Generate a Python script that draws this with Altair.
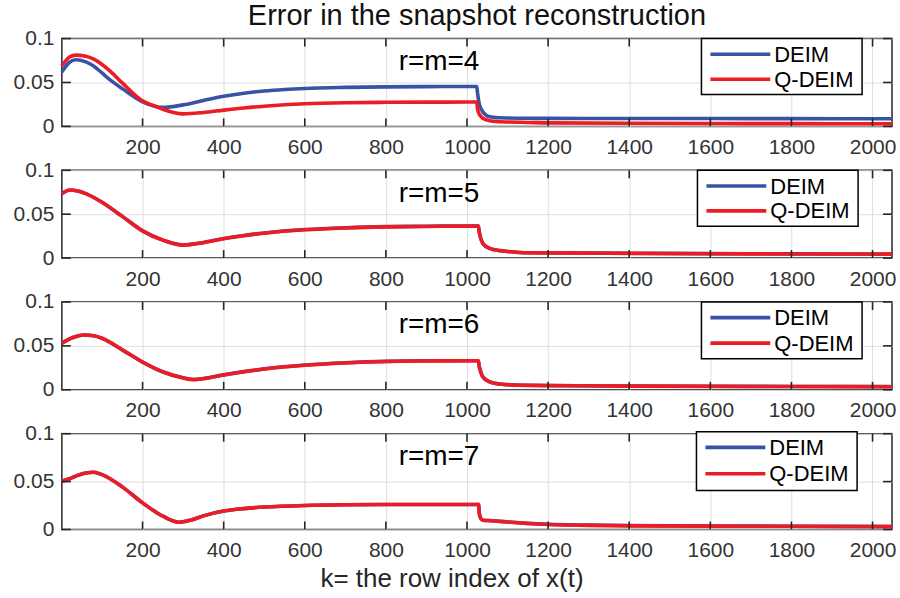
import altair as alt
import pandas as pd

# ---- data -------------------------------------------------------------
SERIES = ["DEIM", "Q-DEIM"]
COLORS = ["#3953a4", "#ed1c24"]
PANEL_TITLES = ["r=m=4", "r=m=5", "r=m=6", "r=m=7"]
X_TICKS = [200, 400, 600, 800, 1000, 1200, 1400, 1600, 1800, 2000]
Y_TICKS = [0, 0.05, 0.1]
X_DOMAIN = [1, 2048]
Y_DOMAIN = [0, 0.1]

# r = m = 4
K_4 = [1, 20, 35, 60, 80, 100, 120, 150, 200, 230, 250, 300, 350, 400, 450, 500,
       550, 600, 700, 800, 900, 1000, 1024, 1026, 1030, 1040, 1056, 1080, 1100,
       1150, 1200, 1400, 1600, 1800, 2048]
DEIM_4 = [0.0620, 0.0730, 0.0758, 0.0735, 0.0685, 0.0608, 0.0530, 0.0430, 0.0280,
          0.0230, 0.0216, 0.0245, 0.0295, 0.0342, 0.0378, 0.0403, 0.0420, 0.0432,
          0.0444, 0.0450, 0.0453, 0.0455, 0.0455, 0.0380, 0.0260, 0.0160, 0.0110,
          0.0098, 0.0095, 0.0092, 0.0091, 0.0090, 0.0089, 0.0088, 0.0087]
QDEIM_4 = [0.0690, 0.0790, 0.0812, 0.0800, 0.0765, 0.0705, 0.0630, 0.0495, 0.0290,
           0.0232, 0.0195, 0.0142, 0.0158, 0.0185, 0.0210, 0.0230, 0.0246, 0.0258,
           0.0270, 0.0274, 0.0276, 0.0277, 0.0277, 0.0200, 0.0140, 0.0090, 0.0065,
           0.0053, 0.0050, 0.0045, 0.0040, 0.0036, 0.0033, 0.0031, 0.0030]

# r = m = 5
K_5 = [1, 21, 40, 60, 80, 100, 150, 200, 250, 300, 350, 400, 450, 500, 600, 700,
       800, 900, 1000, 1028, 1030, 1034, 1040, 1056, 1080, 1100, 1150, 1200, 1300,
       1400, 1600, 1800, 2048]
DEIM_5 = [0.0734, 0.0776, 0.0765, 0.0735, 0.0690, 0.0635, 0.0475, 0.0310, 0.0205,
          0.0150, 0.0178, 0.0223, 0.0258, 0.0286, 0.0325, 0.0346, 0.0358, 0.0362,
          0.0366, 0.0366, 0.0302, 0.0222, 0.0161, 0.0111, 0.0086, 0.0076, 0.0061,
          0.0060, 0.0058, 0.0055, 0.0051, 0.0048, 0.0046]
QDEIM_5 = [0.0734, 0.0776, 0.0765, 0.0735, 0.0690, 0.0635, 0.0475, 0.0310, 0.0205,
           0.0148, 0.0175, 0.0220, 0.0255, 0.0283, 0.0322, 0.0343, 0.0355, 0.0360,
           0.0364, 0.0364, 0.0300, 0.0220, 0.0160, 0.0110, 0.0085, 0.0075, 0.0060,
           0.0059, 0.0057, 0.0054, 0.0050, 0.0047, 0.0045]

# r = m = 6
K_6 = [1, 20, 40, 56, 80, 100, 150, 200, 250, 300, 326, 350, 400, 450, 500, 600,
       700, 800, 900, 1000, 1028, 1030, 1034, 1040, 1056, 1080, 1100, 1150, 1200,
       1400, 1600, 1800, 2048]
DEIM_6 = [0.0530, 0.0580, 0.0613, 0.0624, 0.0615, 0.0587, 0.0455, 0.0316, 0.0205,
          0.0137, 0.0118, 0.0128, 0.0170, 0.0207, 0.0238, 0.0282, 0.0308, 0.0324,
          0.0330, 0.0331, 0.0331, 0.0271, 0.0201, 0.0141, 0.0091, 0.0066, 0.0059,
          0.0051, 0.0049, 0.0043, 0.0040, 0.0038, 0.0036]
QDEIM_6 = [0.0530, 0.0580, 0.0613, 0.0624, 0.0615, 0.0587, 0.0455, 0.0316, 0.0203,
           0.0135, 0.0116, 0.0126, 0.0168, 0.0205, 0.0236, 0.0280, 0.0306, 0.0322,
           0.0328, 0.0330, 0.0330, 0.0270, 0.0200, 0.0140, 0.0090, 0.0065, 0.0058,
           0.0050, 0.0048, 0.0042, 0.0039, 0.0037, 0.0035]

# r = m = 7
K_7 = [1, 20, 40, 60, 80, 100, 150, 200, 250, 289, 320, 350, 400, 450, 500, 600,
       700, 800, 1000, 1029, 1030, 1034, 1040, 1060, 1100, 1150, 1200, 1300, 1400,
       1600, 1800, 2048]
DEIM_7 = [0.0503, 0.0530, 0.0565, 0.0590, 0.0597, 0.0573, 0.0445, 0.0278, 0.0139,
          0.0076, 0.0100, 0.0142, 0.0192, 0.0218, 0.0234, 0.0251, 0.0258, 0.0260,
          0.0260, 0.0260, 0.0174, 0.0115, 0.0097, 0.0092, 0.0078, 0.0064, 0.0054,
          0.0046, 0.0041, 0.0037, 0.0034, 0.0031]
QDEIM_7 = [0.0503, 0.0530, 0.0565, 0.0590, 0.0597, 0.0573, 0.0445, 0.0278, 0.0139,
           0.0076, 0.0100, 0.0142, 0.0192, 0.0218, 0.0234, 0.0251, 0.0258, 0.0260,
           0.0260, 0.0260, 0.0174, 0.0115, 0.0097, 0.0092, 0.0078, 0.0063, 0.0052,
           0.0043, 0.0038, 0.0035, 0.0033, 0.0030]

PANELS = [
    (K_4, DEIM_4, QDEIM_4),
    (K_5, DEIM_5, QDEIM_5),
    (K_6, DEIM_6, QDEIM_6),
    (K_7, DEIM_7, QDEIM_7),
]

TITLE = "Error in the snapshot reconstruction"
X_LABEL = "k= the row index of x(t)"

# ---- styling ----------------------------------------------------------
WIDTH = 832
HEIGHTS = [88, 88, 88, 96]
LEGEND_LEFT = [641, 637, 641, 636]
LEGEND_TOP = [0, 0, 0, -2]
LEGEND_H = [56, 56, 57, 59]
AXIS_INK = "#262626"
LABEL_INK = "#333333"
GRID = "#dedede"
FONT = "Liberation Sans"

x_scale = alt.Scale(domain=X_DOMAIN, nice=False, zero=False)
y_scale = alt.Scale(domain=Y_DOMAIN, nice=False, zero=False)

x_axis = alt.Axis(values=X_TICKS, format="d", grid=True, gridColor=GRID, gridWidth=1,
                  domain=False, ticks=False, tickSize=0, labelFontSize=21,
                  labelColor=LABEL_INK, labelPadding=10, labelFlush=False,
                  labelOverlap=False, title=None)
y_axis = alt.Axis(values=Y_TICKS, format="~g", grid=True, gridColor=GRID, gridWidth=1,
                  domain=False, ticks=False, tickSize=0, labelFontSize=21,
                  labelColor=LABEL_INK, labelPadding=8, labelOverlap=False, title=None)


def X(field):
    return alt.X(field, type="quantitative", scale=x_scale, axis=x_axis)


def Y(field):
    return alt.Y(field, type="quantitative", scale=y_scale, axis=y_axis)


def one_row(**cols):
    return pd.DataFrame({k: [v] for k, v in cols.items()})


def build_panel(i):
    k, deim, qdeim = PANELS[i]
    h = HEIGHTS[i]
    df = pd.DataFrame({
        "k": list(k) * 2,
        "err": list(deim) + list(qdeim),
        "series": [SERIES[0]] * len(k) + [SERIES[1]] * len(k),
    })
    base = alt.Chart(df)
    layers = []
    for name, col in zip(SERIES, COLORS):
        layers.append(
            base.transform_filter(alt.datum.series == name)
            .mark_line(color=col, strokeWidth=3.6, interpolate="monotone")
            .encode(x=X("k"), y=Y("err"))
        )

    # inward tick marks on all four sides
    xt = alt.Chart(pd.DataFrame({"tick": X_TICKS}))
    yt = alt.Chart(pd.DataFrame({"tick": Y_TICKS}))
    tick_style = dict(color=AXIS_INK, strokeWidth=1.6)
    layers += [
        xt.mark_rule(**tick_style).encode(x=X("tick"), y=alt.value(h), y2=alt.value(h - 8)),
        xt.mark_rule(**tick_style).encode(x=X("tick"), y=alt.value(0), y2=alt.value(8)),
        yt.mark_rule(**tick_style).encode(y=Y("tick"), x=alt.value(0), x2=alt.value(9)),
        yt.mark_rule(**tick_style).encode(y=Y("tick"), x=alt.value(WIDTH), x2=alt.value(WIDTH - 9)),
    ]

    # legend box
    L, T, LH = LEGEND_LEFT[i], LEGEND_TOP[i], LEGEND_H[i]
    layers.append(
        alt.Chart(one_row(box=1)).mark_rect(fill="white", stroke="#000000", strokeWidth=1.5)
        .encode(x=alt.value(L), x2=alt.value(L + 161), y=alt.value(T), y2=alt.value(T + LH))
    )
    row_gap = (LH - 8) / 2
    for j, (name, col) in enumerate(zip(SERIES, COLORS)):
        yl = T + 15.7 + row_gap * j + (1 if j else 0)
        layers.append(
            alt.Chart(one_row(series=name)).mark_rule(color=col, strokeWidth=3.6)
            .encode(x=alt.value(L + 9), x2=alt.value(L + 69), y=alt.value(yl))
        )
        layers.append(
            alt.Chart(one_row(series=name))
            .mark_text(align="left", baseline="alphabetic", fontSize=22, color="#000000")
            .encode(x=alt.value(L + 73), y=alt.value(yl + 7.6), text="series:N")
        )

    # panel label
    layers.append(
        alt.Chart(one_row(label=PANEL_TITLES[i]))
        .mark_text(align="center", baseline="alphabetic", fontSize=28, color="#000000")
        .encode(x=alt.value(378), y=alt.value(31.5), text="label:N")
    )

    if i == 0:
        layers.append(
            alt.Chart(one_row(label=TITLE))
            .mark_text(align="center", baseline="top", fontSize=29, color="#111111")
            .encode(x=alt.value(416), y=alt.value(-37), text="label:N")
        )
    if i == len(PANELS) - 1:
        layers.append(
            alt.Chart(one_row(label=X_LABEL))
            .mark_text(align="center", baseline="alphabetic", fontSize=26, color=AXIS_INK)
            .encode(x=alt.value(391), y=alt.value(154), text="label:N")
        )

    return alt.layer(*layers).properties(width=WIDTH, height=h)


chart = (
    alt.vconcat(*[build_panel(i) for i in range(len(PANELS))], spacing=44, bounds="flush")
    .properties(padding={"left": 12, "top": 0, "right": 0, "bottom": 0}, background="white")
    .configure(font=FONT)
    .configure_view(stroke=AXIS_INK, strokeWidth=1.5)
)

chart.save("out.html", embed_options={"renderer": "svg", "actions": False})
